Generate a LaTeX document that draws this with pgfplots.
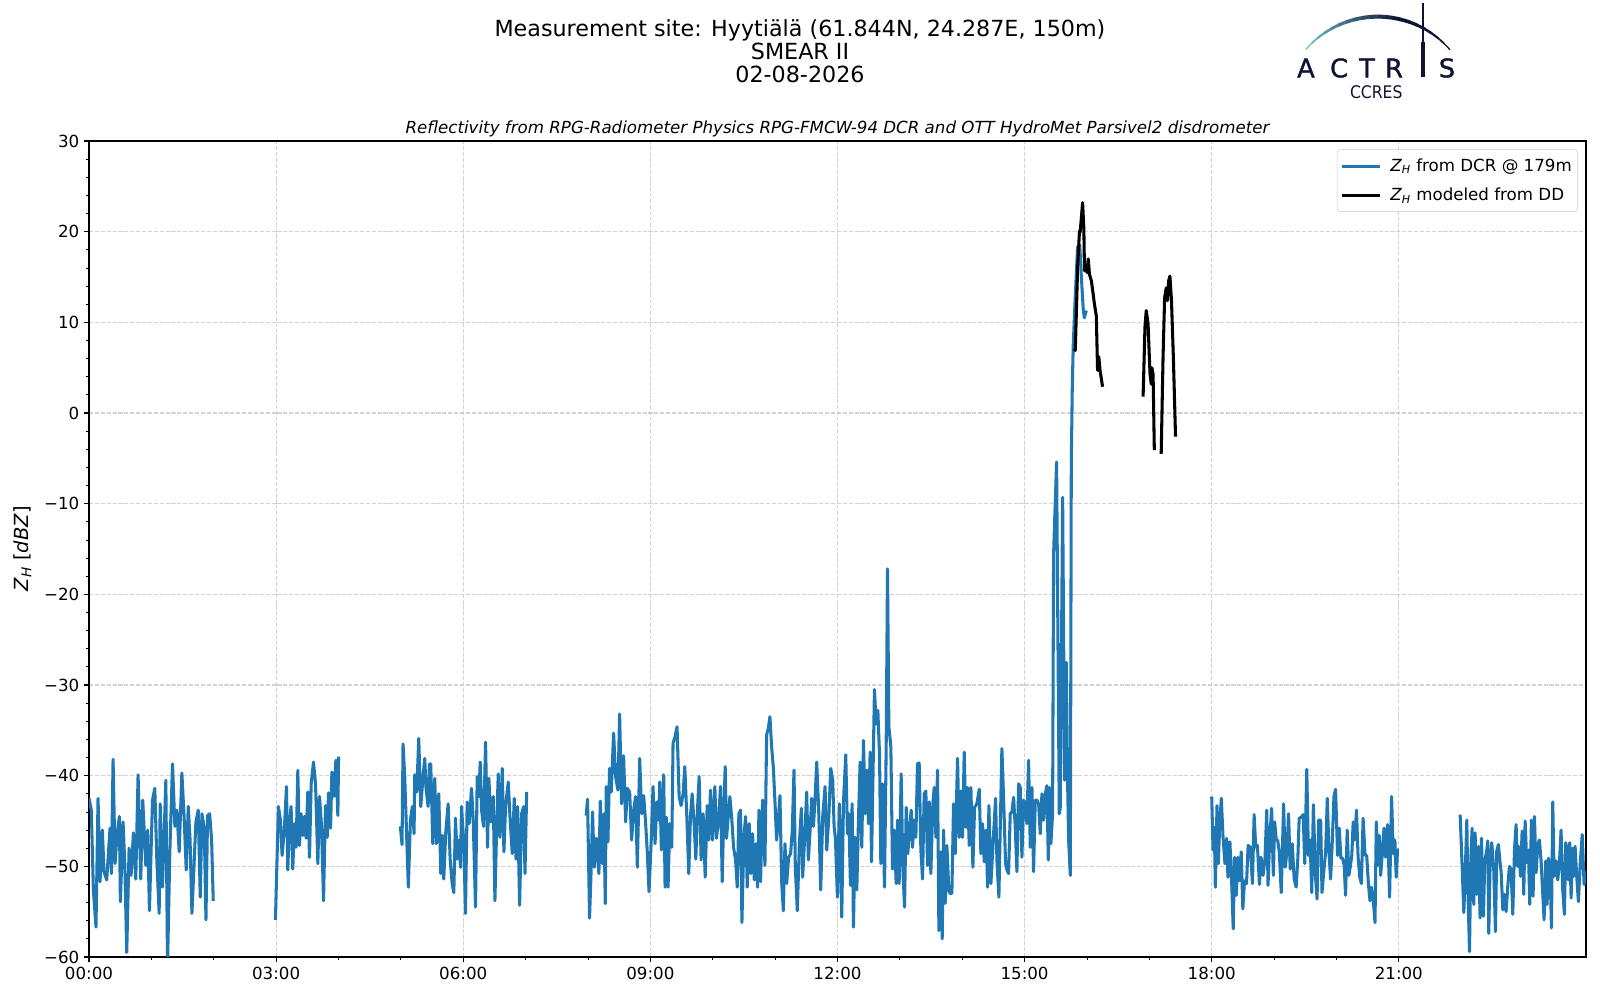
\documentclass[border=0pt]{standalone}
\usepackage{amsmath}
\usepackage{fontspec}
\setmainfont{DejaVu Sans}
\newfontfamily\logofont{DejaVu Sans}[FakeStretch=0.9]
\newfontfamily\logoAfont{DejaVu Sans}[FakeBold=1.2]
\usepackage{pgfplots}
\usepackage{pgfplotstable}
\pgfplotsset{compat=1.18}
\definecolor{mplblue}{HTML}{1F77B4}
\definecolor{ateal}{RGB}{110,196,196}
\definecolor{anavy}{RGB}{14,18,52}

\pgfplotstableread{
h v
0.000 -42.5
0.037 -43.8
0.070 -52.6
0.112 -56.7
0.145 -42.5
0.177 -51.7
0.214 -46.0
0.241 -50.6
0.284 -51.5
0.337 -45.8
0.359 -50.8
0.386 -38.2
0.418 -49.7
0.450 -46.5
0.487 -44.5
0.503 -53.9
0.546 -45.1
0.575 -50.0
0.605 -59.5
0.643 -48.0
0.675 -51.0
0.712 -46.3
0.750 -51.4
0.787 -39.9
0.830 -51.4
0.862 -42.7
0.911 -49.9
0.940 -46.0
0.969 -54.9
1.018 -42.7
1.055 -41.4
1.087 -49.2
1.125 -55.2
1.141 -43.1
1.178 -52.3
1.232 -40.5
1.259 -61.0
1.296 -48.4
1.339 -38.7
1.377 -45.6
1.409 -43.8
1.446 -48.4
1.489 -39.7
1.527 -44.9
1.559 -50.4
1.591 -43.4
1.620 -47.0
1.650 -55.2
1.714 -45.1
1.751 -43.8
1.784 -53.4
1.810 -44.2
1.848 -45.8
1.875 -55.9
1.901 -44.4
1.934 -44.2
1.966 -47.1
1.992 -53.8
nan nan
2.989 -55.9
3.037 -43.4
3.069 -44.9
3.096 -48.8
3.133 -45.8
3.166 -41.2
3.187 -50.4
3.214 -45.3
3.240 -43.4
3.267 -50.3
3.294 -45.3
3.321 -47.9
3.348 -39.4
3.374 -47.7
3.401 -44.2
3.428 -46.6
3.455 -44.5
3.481 -46.9
3.508 -41.8
3.535 -49.0
3.562 -40.9
3.599 -38.5
3.632 -40.9
3.669 -49.7
3.696 -42.3
3.728 -45.6
3.760 -53.8
3.792 -43.3
3.819 -46.8
3.840 -41.9
3.873 -45.8
3.894 -39.6
3.926 -42.3
3.958 -38.3
3.990 -44.4
4.001 -37.9
nan nan
4.992 -45.6
5.019 -47.6
5.035 -36.5
5.062 -40.1
5.088 -45.6
5.120 -52.3
5.153 -44.9
5.185 -43.4
5.212 -46.4
5.222 -39.9
5.254 -41.8
5.287 -35.9
5.319 -43.4
5.356 -40.1
5.383 -38.1
5.404 -41.4
5.437 -43.4
5.458 -38.7
5.479 -38.7
5.512 -47.5
5.544 -40.3
5.570 -47.5
5.608 -42.0
5.640 -50.8
5.667 -46.6
5.688 -51.4
5.720 -46.2
5.758 -43.1
5.790 -49.2
5.822 -51.9
5.849 -52.9
5.876 -44.7
5.903 -49.2
5.935 -47.1
5.956 -50.1
5.972 -43.4
6.010 -47.5
6.036 -55.2
6.063 -42.9
6.095 -45.3
6.133 -41.4
6.160 -44.9
6.197 -54.5
6.224 -40.1
6.251 -42.3
6.272 -38.5
6.294 -43.8
6.326 -45.6
6.358 -36.3
6.390 -47.9
6.411 -40.3
6.443 -45.1
6.481 -42.3
6.508 -53.8
6.535 -46.0
6.561 -39.8
6.588 -46.8
6.626 -39.2
6.652 -48.4
6.679 -43.4
6.722 -40.7
6.749 -44.5
6.786 -48.6
6.818 -42.5
6.845 -49.2
6.872 -43.4
6.904 -54.3
6.936 -44.2
6.968 -43.4
6.990 -50.8
7.017 -41.8
nan nan
7.971 -44.4
7.993 -42.6
8.025 -55.7
8.052 -50.1
8.073 -44.0
8.100 -50.1
8.132 -46.9
8.175 -50.8
8.197 -42.8
8.229 -49.7
8.255 -44.2
8.277 -54.1
8.293 -41.2
8.320 -47.3
8.346 -39.2
8.373 -41.8
8.411 -35.3
8.443 -40.1
8.480 -41.6
8.507 -33.2
8.539 -43.1
8.571 -37.8
8.604 -45.1
8.630 -41.4
8.668 -41.8
8.700 -47.1
8.732 -43.8
8.764 -42.3
8.791 -50.1
8.829 -38.1
8.861 -44.2
8.893 -42.2
8.925 -45.3
8.952 -48.6
8.979 -52.8
9.016 -46.8
9.043 -41.2
9.075 -47.5
9.107 -42.9
9.134 -44.9
9.150 -40.7
9.177 -48.2
9.214 -39.9
9.236 -52.3
9.257 -44.6
9.284 -52.3
9.311 -45.3
9.343 -47.9
9.364 -36.4
9.396 -35.7
9.428 -34.6
9.461 -42.3
9.493 -43.3
9.525 -42.0
9.552 -39.0
9.584 -44.4
9.616 -50.8
9.643 -44.5
9.670 -42.0
9.702 -45.3
9.729 -49.2
9.755 -43.8
9.782 -40.1
9.814 -49.3
9.846 -44.2
9.879 -51.2
9.911 -43.3
9.937 -47.1
9.964 -41.6
9.996 -47.1
10.034 -41.2
10.060 -46.9
10.093 -44.9
10.125 -41.2
10.152 -51.7
10.178 -43.8
10.200 -39.0
10.221 -46.9
10.253 -44.2
10.275 -42.3
10.307 -44.9
10.334 -47.9
10.366 -49.3
10.393 -52.3
10.419 -44.2
10.446 -43.8
10.468 -56.2
10.500 -46.8
10.527 -44.5
10.553 -52.3
10.586 -45.3
10.612 -50.8
10.639 -46.4
10.666 -51.5
10.693 -47.5
10.719 -52.3
10.741 -43.8
10.767 -51.7
10.800 -42.7
10.837 -49.9
10.864 -35.5
10.891 -34.8
10.917 -33.5
10.944 -36.8
10.971 -39.0
10.998 -42.9
11.024 -47.1
11.051 -44.9
11.078 -42.2
11.105 -51.7
11.132 -54.9
11.158 -47.5
11.185 -51.9
11.217 -49.0
11.249 -48.6
11.276 -46.0
11.303 -39.4
11.324 -50.1
11.356 -54.9
11.389 -47.5
11.421 -43.6
11.442 -51.2
11.480 -46.0
11.506 -41.8
11.533 -49.3
11.560 -46.2
11.587 -42.5
11.614 -45.6
11.640 -42.7
11.667 -38.5
11.699 -43.8
11.731 -52.6
11.764 -44.5
11.801 -41.2
11.828 -48.2
11.860 -44.7
11.892 -39.2
11.924 -40.5
11.946 -45.6
11.967 -46.9
11.999 -53.4
12.031 -43.1
12.069 -55.6
12.096 -42.9
12.133 -37.7
12.160 -46.4
12.181 -44.2
12.208 -52.1
12.235 -43.1
12.256 -56.7
12.283 -46.8
12.310 -52.6
12.337 -44.7
12.363 -38.5
12.390 -47.9
12.417 -36.1
12.444 -44.2
12.470 -39.4
12.497 -45.3
12.524 -37.4
12.546 -49.5
12.593 -30.5
12.620 -34.3
12.647 -32.8
12.674 -37.6
12.695 -49.7
12.722 -40.9
12.754 -52.3
12.781 -36.8
12.802 -17.2
12.824 -34.6
12.856 -36.8
12.882 -50.3
12.909 -46.0
12.941 -51.9
12.963 -44.9
12.989 -51.9
13.021 -39.8
13.048 -50.1
13.075 -54.5
13.102 -43.5
13.128 -48.6
13.155 -46.0
13.182 -43.8
13.203 -47.9
13.230 -44.9
13.257 -46.8
13.283 -38.7
13.310 -38.6
13.337 -48.2
13.364 -51.4
13.390 -42.0
13.417 -41.7
13.444 -49.9
13.471 -42.9
13.497 -50.8
13.529 -43.1
13.551 -41.3
13.578 -46.8
13.604 -39.4
13.626 -57.1
13.658 -48.4
13.679 -58.0
13.701 -46.0
13.727 -54.1
13.754 -47.7
13.786 -52.7
13.807 -53.0
13.834 -53.0
13.861 -43.1
13.888 -48.6
13.925 -38.1
13.952 -46.8
13.979 -41.7
14.005 -46.8
14.032 -37.4
14.059 -45.7
14.086 -41.3
14.112 -47.7
14.139 -41.3
14.171 -50.1
14.198 -43.5
14.235 -43.1
14.273 -41.5
14.299 -48.6
14.326 -45.3
14.353 -49.5
14.385 -46.0
14.406 -52.3
14.428 -43.3
14.460 -51.9
14.503 -46.4
14.535 -42.5
14.556 -49.3
14.588 -53.4
14.610 -45.7
14.636 -37.0
14.663 -42.4
14.695 -49.7
14.717 -50.4
14.743 -50.8
14.770 -44.2
14.797 -44.0
14.824 -42.4
14.850 -45.7
14.877 -50.6
14.904 -40.9
14.930 -41.3
14.957 -49.0
14.984 -42.7
15.011 -43.1
15.037 -45.3
15.064 -38.3
15.091 -47.9
15.118 -41.3
15.144 -50.6
15.171 -42.7
15.198 -42.7
15.225 -43.1
15.251 -46.4
15.278 -42.0
15.305 -44.9
15.332 -42.0
15.358 -41.1
15.380 -49.3
15.401 -41.3
15.422 -47.5
15.449 -44.2
15.465 -15.5
15.513 -5.4
15.556 -44.2
15.572 -43.5
15.610 -9.3
15.642 -40.5
15.668 -27.5
15.690 -40.9
15.706 -47.1
15.733 -51.0
15.749 -5.2
15.765 3.0
15.780 7.5
15.810 12.5
15.850 18.3
15.885 18.5
15.910 15.0
15.940 11.5
15.957 10.5
15.990 11.3
nan nan
18.000 -42.3
18.021 -48.2
18.042 -45.7
18.058 -52.3
18.085 -43.3
18.106 -49.7
18.127 -45.6
18.154 -42.5
18.181 -46.7
18.212 -49.7
18.239 -46.9
18.260 -51.2
18.292 -47.3
18.319 -51.6
18.345 -56.9
18.366 -49.0
18.393 -53.2
18.420 -49.0
18.446 -51.6
18.473 -48.4
18.499 -54.7
18.526 -51.6
18.558 -51.9
18.584 -47.7
18.621 -47.9
18.653 -51.9
18.680 -44.3
18.706 -47.9
18.733 -47.7
18.765 -52.0
18.791 -49.0
18.823 -51.0
18.855 -49.1
18.882 -43.8
18.903 -52.1
18.929 -47.1
18.961 -43.6
18.988 -51.0
19.009 -45.1
19.036 -47.1
19.057 -47.1
19.083 -48.4
19.115 -52.9
19.153 -43.1
19.179 -50.1
19.206 -48.4
19.232 -44.2
19.259 -50.3
19.291 -47.5
19.322 -51.4
19.354 -52.3
19.381 -49.1
19.402 -44.7
19.434 -44.6
19.466 -44.3
19.492 -49.7
19.524 -39.3
19.551 -48.8
19.577 -47.1
19.604 -52.9
19.630 -43.2
19.662 -50.8
19.689 -53.6
19.715 -44.9
19.747 -44.9
19.768 -52.9
19.800 -50.3
19.827 -48.4
19.853 -42.5
19.880 -48.4
19.906 -51.4
19.933 -47.3
19.960 -42.3
19.986 -41.5
20.018 -48.8
20.045 -45.8
20.071 -49.1
20.098 -49.1
20.124 -49.9
20.146 -53.2
20.172 -46.0
20.199 -51.0
20.220 -50.1
20.246 -48.8
20.268 -45.1
20.294 -47.1
20.321 -43.8
20.347 -49.0
20.374 -51.2
20.400 -51.9
20.427 -44.7
20.459 -48.8
20.485 -48.8
20.512 -51.9
20.538 -53.8
20.560 -52.3
20.591 -53.8
20.618 -56.2
20.639 -45.1
20.666 -49.9
20.687 -46.6
20.708 -51.0
20.735 -48.6
20.762 -45.8
20.788 -49.0
20.820 -45.4
20.852 -53.4
20.884 -42.3
20.910 -48.6
20.937 -47.1
20.958 -51.2
20.979 -48.2
21.000 -48.2
nan nan
21.983 -44.3
22.015 -50.0
22.042 -55.1
22.063 -51.1
22.090 -44.9
22.106 -52.2
22.133 -59.4
22.154 -49.3
22.175 -45.8
22.202 -54.2
22.223 -46.3
22.250 -53.1
22.277 -47.8
22.303 -55.7
22.325 -46.9
22.357 -55.5
22.378 -49.3
22.405 -48.5
22.426 -47.2
22.442 -57.4
22.464 -49.6
22.490 -47.4
22.522 -50.4
22.549 -57.2
22.570 -48.3
22.597 -47.6
22.619 -49.3
22.640 -50.6
22.667 -54.8
22.693 -53.1
22.720 -55.0
22.747 -52.2
22.773 -50.0
22.800 -50.4
22.827 -55.3
22.854 -48.2
22.880 -45.4
22.902 -50.0
22.923 -47.8
22.950 -51.1
22.977 -46.1
23.003 -53.1
23.025 -45.0
23.051 -49.6
23.078 -48.2
23.099 -54.2
23.126 -44.9
23.153 -53.3
23.174 -44.5
23.201 -50.7
23.228 -47.6
23.254 -47.1
23.281 -49.4
23.308 -53.1
23.329 -55.9
23.356 -49.4
23.377 -54.2
23.399 -49.1
23.425 -50.4
23.447 -56.8
23.468 -42.9
23.489 -51.1
23.521 -49.4
23.548 -51.5
23.575 -49.6
23.601 -46.0
23.628 -52.6
23.655 -55.3
23.676 -47.4
23.698 -48.2
23.719 -51.5
23.740 -47.4
23.762 -53.5
23.783 -48.0
23.805 -51.1
23.826 -47.8
23.852 -51.1
23.879 -53.9
23.910 -49.5
23.940 -46.5
23.970 -52.0
23.995 -50.5
}\dcrdata

\pgfplotstableread{
h v
15.790 7.1
15.813 6.9
15.850 16.0
15.880 20.1
15.890 19.9
15.910 21.5
15.930 23.2
15.950 20.4
15.960 15.7
15.980 16.2
16.000 15.5
16.020 17.0
16.040 15.3
16.070 14.6
16.100 13.1
16.120 12.0
16.150 10.7
16.170 4.7
16.190 6.2
16.210 4.7
16.250 2.9
nan nan
16.900 1.8
16.930 9.5
16.950 11.3
16.980 9.8
17.010 4.4
17.030 3.2
17.040 5.0
17.060 4.3
17.080 -4.1
nan nan
17.190 -4.5
17.220 6.2
17.245 12.7
17.270 13.8
17.290 12.4
17.310 14.6
17.330 15.1
17.355 12.4
17.385 6.2
17.420 -2.6
}\dddata

\begin{document}
\begin{tikzpicture}
\useasboundingbox (0,0) rectangle (1152pt,720pt);
\begin{axis}[
  at={(64.08pt,30.96pt)}, anchor=south west,
  scale only axis, width=1077.8pt, height=587.5pt,
  xmin=0, xmax=24, ymin=-60, ymax=30,
  unbounded coords=jump,
  xtick={0,3,...,21},
  xticklabels={00:00,03:00,06:00,09:00,12:00,15:00,18:00,21:00},
  ytick={-60,-50,...,30},
  yticklabels={−60,−50,−40,−30,−20,−10,0,10,20,30},
  minor x tick num=2, minor y tick num=4,
  tick pos=left, tick align=outside,
  major tick length=3.5pt, minor tick length=2pt,
  every major tick/.append style={line width=0.8pt, black},
  every minor tick/.append style={line width=0.6pt, black},
  axis line style={line width=0.8pt},
  grid=major,
  major grid style={line width=0.8pt, color=gray!35, dash pattern=on 2.96pt off 1.28pt},
  tick label style={font=\fontsize{12}{14.4}\selectfont},
  ylabel={\textit{Z}\textsubscript{\textit{H}} [\textit{dBZ}]},
  ylabel style={at={(axis description cs:-0.0444,0.5)}, anchor=center, font=\fontsize{14}{16.8}\selectfont},
  title={Reflectivity from RPG-Radiometer Physics RPG-FMCW-94 DCR and OTT HydroMet Parsivel2 disdrometer},
  title style={at={(axis description cs:0.5,1)}, anchor=base, yshift=-0.5pt, font=\itshape\fontsize{12}{14.4}\selectfont},
  legend style={at={(axis description cs:1,1)}, anchor=north east, xshift=-6pt, yshift=-6pt,
    draw=gray!40, rounded corners=2pt, fill=white, fill opacity=0.8, text opacity=1,
    font=\fontsize{12}{14.4}\selectfont, inner xsep=2pt, inner ysep=4.5pt, row sep=6.5pt,
    /tikz/every odd column/.append style={column sep=4pt}},
  legend cell align=left,
  legend image code/.code={\draw[#1] (0pt,0pt) -- (28pt,0pt);},
]
\addplot[color=mplblue, line width=2.2pt, line join=round] table[x=h, y=v] {\dcrdata};
\addlegendentry{\textit{Z}\textsubscript{\textit{H}} from DCR @ 179m}
\addplot[color=black, line width=2.2pt, line join=round] table[x=h, y=v] {\dddata};
\addlegendentry{\textit{Z}\textsubscript{\textit{H}} modeled from DD}
\end{axis}

% titles
\node[anchor=base, font=\fontsize{16}{19.2}\selectfont] at (576pt,693.6pt) {Measurement site: Hyytiälä (61.844N, 24.287E, 150m)};
\node[anchor=base, font=\fontsize{16}{19.2}\selectfont] at (576pt,676.8pt) {SMEAR II};
\node[anchor=base, font=\fontsize{16}{19.2}\selectfont] at (576pt,660.6pt) {02-08-2026};

% logo
\foreach \i in {0,...,19} {
  \pgfmathsetmacro\a{139 - \i*4.9}
  \pgfmathsetmacro\b{\a - 5.1}
  \pgfmathtruncatemacro\p{max(0,100 - \i*100/12)}
  \pgfmathsetmacro\w{0.9 + 2.0*sin(min(\i,19-\i)*9.5)}
  \draw[color=ateal!\p!anavy, line width=\w pt] ([shift={(\a:68.6pt)}]992pt,639.4pt) arc[start angle=\a, end angle=\b, radius=68.6pt];
}
\draw[anavy, line width=0.9pt] (1024.6pt,717.8pt) -- (1024.6pt,690pt);
\draw[anavy, line width=2.3pt] (1024.6pt,690pt) -- (1024.6pt,664.3pt);
\begin{scope}[every node/.style={anchor=base, text=anavy, font=\logoAfont\fontsize{18.5}{21}\selectfont, inner sep=0pt}]
\node at (940.3pt,664.3pt) {A};
\node at (964.1pt,664.3pt) {C};
\node at (984.2pt,664.3pt) {T};
\node at (1003.7pt,664.3pt) {R};
\node at (1041.8pt,664.3pt) {S};
\end{scope}
\node[anchor=base, text=anavy, font=\logofont\fontsize{12.5}{15}\selectfont, inner sep=0pt] at (990.9pt,648.9pt) {CCRES};
\end{tikzpicture}
\end{document}
